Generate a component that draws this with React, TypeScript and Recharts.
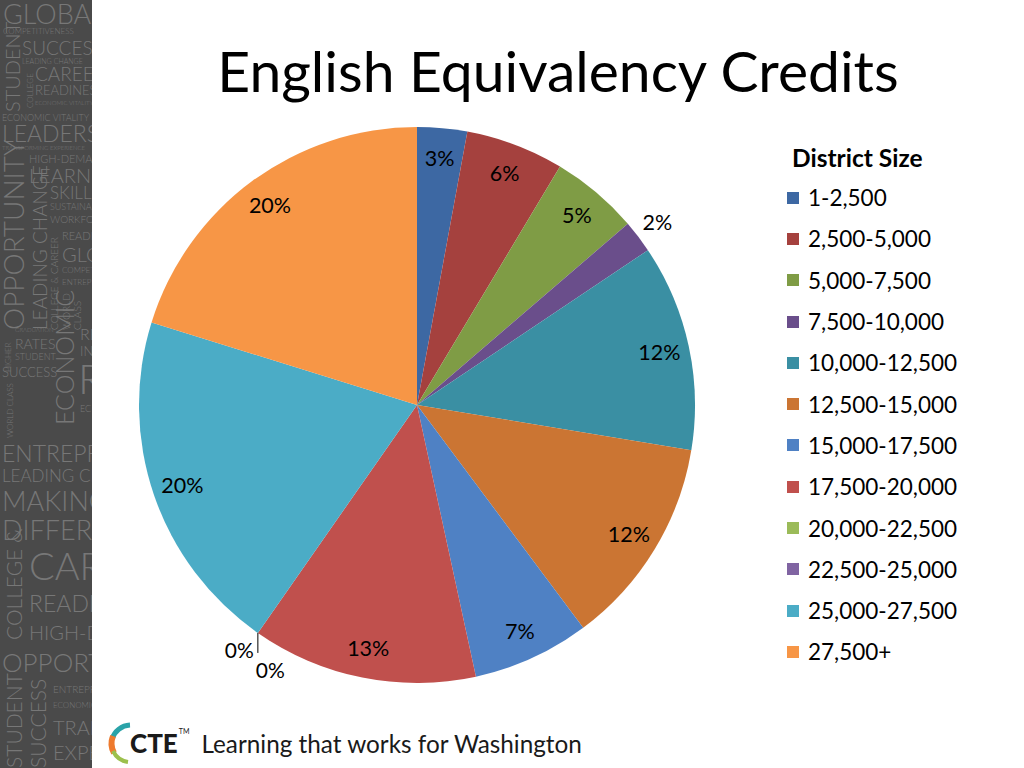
import React from 'react';
import { PieChart, Pie, Cell, Legend } from 'recharts';

const districtSizes = [
  '1-2,500',
  '2,500-5,000',
  '5,000-7,500',
  '7,500-10,000',
  '10,000-12,500',
  '12,500-15,000',
  '15,000-17,500',
  '17,500-20,000',
  '20,000-22,500',
  '22,500-25,000',
  '25,000-27,500',
  '27,500+',
];

// share of credits per district size, in percent
const shares = [2.9, 5.7, 5.1, 1.9, 12.0, 12.2, 6.8, 13.1, 0, 0, 20.1, 20.2];

const sliceColors = [
  '#3d68a3',
  '#a5413e',
  '#7f9c45',
  '#6a4e8b',
  '#3a8fa3',
  '#cb7533',
  '#4f81c4',
  '#c0504d',
  '#9bbb59',
  '#8064a2',
  '#4bacc6',
  '#f79646',
];

const data = districtSizes.map((name, i) => ({ name, value: shares[i] }));

const FONT = 'Lato, "Open Sans", sans-serif';
const RAD = Math.PI / 180;

// background word cloud on the left strip
const cloudWords = [
  { t: 'GLOBAL', x: 3, y: 24, s: 27 },
  { t: 'COMPETITIVENESS', x: 3, y: 34, s: 8 },
  { t: 'SUCCESS', x: 22, y: 55, s: 19 },
  { t: 'LEADING CHANGE', x: 22, y: 64, s: 7 },
  { t: 'CAREER', x: 35, y: 81, s: 19 },
  { t: 'READINESS', x: 35, y: 95, s: 13 },
  { t: 'ECONOMIC VITALITY', x: 35, y: 105, s: 6 },
  { t: 'ECONOMIC VITALITY', x: 2, y: 121, s: 9 },
  { t: 'LEADERSHIP', x: 2, y: 142, s: 23 },
  { t: 'TRANSFORMING EXPERIENCE', x: 2, y: 150, s: 6 },
  { t: 'HIGH-DEMAND', x: 29, y: 163, s: 11 },
  { t: 'LEARNING', x: 29, y: 183, s: 20 },
  { t: 'SKILLED', x: 50, y: 199, s: 17 },
  { t: 'SUSTAINABLE', x: 50, y: 210, s: 9 },
  { t: 'WORKFORCE', x: 50, y: 223, s: 10 },
  { t: 'READINESS', x: 62, y: 240, s: 11 },
  { t: 'GLOBAL', x: 62, y: 262, s: 20 },
  { t: 'COMPETE', x: 62, y: 273, s: 8 },
  { t: 'ENTREPRENEUR', x: 62, y: 285, s: 8 },
  { t: 'RE', x: 80, y: 340, s: 16 },
  { t: 'GRADUATION', x: 15, y: 332, s: 6 },
  { t: 'RATES', x: 15, y: 349, s: 14 },
  { t: 'STUDENT', x: 15, y: 360, s: 9 },
  { t: 'SUCCESS', x: 2, y: 377, s: 13 },
  { t: 'IN', x: 80, y: 356, s: 13 },
  { t: 'R', x: 78, y: 394, s: 42 },
  { t: 'EC', x: 80, y: 412, s: 9 },
  { t: 'ENTREPRENEUR', x: 2, y: 462, s: 23 },
  { t: 'LEADING CHANGE', x: 2, y: 482, s: 17 },
  { t: 'MAKING', x: 2, y: 511, s: 27 },
  { t: 'DIFFERENCE', x: 2, y: 540, s: 27 },
  { t: 'CAREER', x: 29, y: 580, s: 38 },
  { t: 'READINESS', x: 29, y: 612, s: 23 },
  { t: 'HIGH-DEMAND', x: 29, y: 640, s: 20 },
  { t: 'OPPORTUNITY', x: 2, y: 672, s: 26 },
  { t: 'ENTREPRENEUR', x: 53, y: 693, s: 10 },
  { t: 'ECONOMIC', x: 53, y: 708, s: 8 },
  { t: 'TRANSFORM', x: 53, y: 735, s: 20 },
  { t: 'EXPERIENCE', x: 53, y: 760, s: 20 },
];

const cloudVertical = [
  { t: 'STUDENT', x: 20, y: 112, s: 20 },
  { t: 'COLLEGE', x: 33, y: 108, s: 8 },
  { t: 'OPPORTUNITY', x: 24, y: 330, s: 28 },
  { t: 'LEADING CHANGE', x: 47, y: 330, s: 19 },
  { t: 'COLLEGE & CAREER', x: 58, y: 330, s: 10 },
  { t: 'WORLD', x: 70, y: 330, s: 10 },
  { t: 'CLASS', x: 81, y: 330, s: 10 },
  { t: 'HIGHER', x: 11, y: 372, s: 8 },
  { t: 'ECONOMIC', x: 74, y: 425, s: 25 },
  { t: 'WORLD CLASS', x: 13, y: 438, s: 8 },
  { t: 'COLLEGE &', x: 22, y: 640, s: 21 },
  { t: 'STUDENT', x: 22, y: 768, s: 21 },
  { t: 'SUCCESS', x: 46, y: 768, s: 21 },
];

const WordStrip = () => (
  <svg width={92} height={768} style={{ position: 'absolute', left: 0, top: 0 }}>
    <rect width={92} height={768} fill="#4a4a4a" />
    <g fill="#777777" fontFamily={FONT} fontWeight={300}>
      {cloudWords.map((w, i) => (
        <text key={`h${i}`} x={w.x} y={w.y} fontSize={w.s}>
          {w.t}
        </text>
      ))}
      {cloudVertical.map((w, i) => (
        <text key={`v${i}`} x={w.x} y={w.y} fontSize={w.s} transform={`rotate(-90 ${w.x} ${w.y})`}>
          {w.t}
        </text>
      ))}
    </g>
  </svg>
);

const renderLabel = (props: any) => {
  const { cx, cy, midAngle, outerRadius, index, value } = props;
  const cos = Math.cos(-midAngle * RAD);
  const sin = Math.sin(-midAngle * RAD);
  const text = `${Math.round(value)}%`;

  if (value === 0) {
    const px = cx + outerRadius * cos;
    const py = cy + outerRadius * sin;
    const first = index === districtSizes.indexOf('20,000-22,500');
    return (
      <g key={`lbl-${index}`}>
        {first && <line x1={px} y1={py} x2={px} y2={py + 20} stroke="#000" strokeWidth={1} />}
        <text
          x={first ? px - 4 : px - 2}
          y={first ? py + 17 : py + 37}
          textAnchor={first ? 'end' : 'start'}
          dominantBaseline="central"
          fontSize={21}
          fontFamily={FONT}
          fill="#000"
        >
          {text}
        </text>
      </g>
    );
  }

  const r = value < 2.5 ? outerRadius + 24 : outerRadius - 30;
  return (
    <text
      key={`lbl-${index}`}
      x={cx + r * cos}
      y={cy + r * sin}
      textAnchor="middle"
      dominantBaseline="central"
      fontSize={21.5}
      fontFamily={FONT}
      fill="#000"
    >
      {text}
    </text>
  );
};

const LegendBox = () => (
  <div style={{ fontFamily: FONT, color: '#000' }}>
    <div style={{ fontWeight: 700, fontSize: 24.5, marginLeft: 5, height: 38, lineHeight: '38px', whiteSpace: 'nowrap' }}>
      District Size
    </div>
    {districtSizes.map((name, i) => (
      <div key={name} style={{ display: 'flex', alignItems: 'center', height: 41.3, whiteSpace: 'nowrap' }}>
        <span style={{ width: 12, height: 12, background: sliceColors[i], marginRight: 9, flexShrink: 0 }} />
        <span style={{ fontSize: 22.5 }}>{name}</span>
      </div>
    ))}
  </div>
);

const Footer = () => (
  <div style={{ position: 'absolute', left: 106, top: 718, height: 50, display: 'flex', alignItems: 'center' }}>
    <svg width={26} height={44}>
      <path d="M24 4 A20 20 0 0 0 6 18" stroke="#2aa3a8" strokeWidth={5} fill="none" />
      <path d="M7 15 A20 20 0 0 0 8 32" stroke="#ee7a2e" strokeWidth={6} fill="none" />
      <path d="M7 30 A20 20 0 0 0 22 41" stroke="#9cc04d" strokeWidth={4} fill="none" />
    </svg>
    <span style={{ fontFamily: FONT, fontWeight: 900, fontSize: 26, lineHeight: 1, color: '#1a1a1a', marginLeft: -2 }}>
      CTE
    </span>
    <span style={{ fontFamily: FONT, fontSize: 7, lineHeight: 1, color: '#1a1a1a', alignSelf: 'flex-start', marginTop: 10, marginLeft: 1 }}>
      TM
    </span>
    <span style={{ fontFamily: FONT, fontSize: 24.3, color: '#1a1a1a', marginLeft: 12 }}>
      Learning that works for Washington
    </span>
  </div>
);

export default function App() {
  return (
    <div style={{ position: 'fixed', left: 0, top: 0, width: 1024, height: 768, background: '#fff', overflow: 'hidden' }}>
      <WordStrip />
      <div
        style={{
          position: 'absolute',
          left: 92,
          width: 932,
          top: 42,
          textAlign: 'center',
          fontFamily: FONT,
          fontSize: 57,
          lineHeight: 1,
          color: '#000',
          whiteSpace: 'nowrap',
        }}
      >
        English Equivalency Credits
      </div>
      <div style={{ position: 'absolute', left: 0, top: 0 }}>
        <PieChart width={1024} height={768} margin={{ top: 0, right: 0, bottom: 0, left: 0 }}>
          <Pie
            data={data}
            dataKey="value"
            nameKey="name"
            cx={417}
            cy={405}
            outerRadius={278}
            startAngle={90}
            endAngle={-270}
            stroke="none"
            label={renderLabel}
            labelLine={false}
            isAnimationActive={false}
          >
            {data.map((d, i) => (
              <Cell key={d.name} fill={sliceColors[i]} />
            ))}
          </Pie>
          <Legend
            content={<LegendBox />}
            layout="vertical"
            wrapperStyle={{ left: 787, top: 139, width: 220, bottom: 'auto' }}
          />
        </PieChart>
      </div>
      <Footer />
    </div>
  );
}
